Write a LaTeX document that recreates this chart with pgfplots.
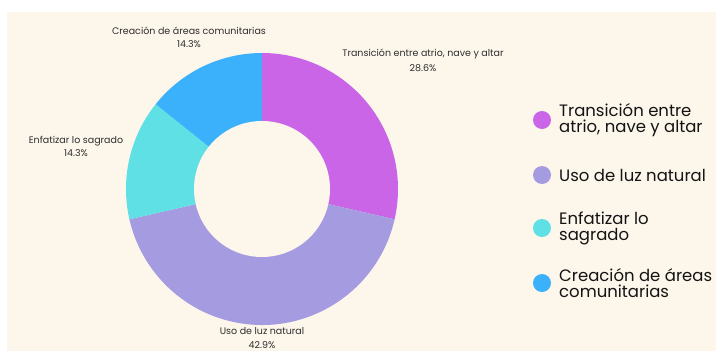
\documentclass[border=0pt]{standalone}
\usepackage{pgfplots}
\pgfplotsset{compat=1.18}
\usepackage{fontspec}
\setmainfont{Poppins}
\definecolor{bg}{HTML}{FDF6EB}
\definecolor{c1}{HTML}{C965E6}
\definecolor{c2}{HTML}{A59BE0}
\definecolor{c3}{HTML}{5EE0E4}
\definecolor{c4}{HTML}{3AB1FA}
\definecolor{lbl}{HTML}{2E2E2E}
\definecolor{leg}{HTML}{141414}
\begin{document}
\begin{tikzpicture}
\begin{axis}[width=716pt,height=351pt,scale only axis,
  xmin=0,xmax=716,ymin=0,ymax=351,y dir=reverse,hide axis,clip=false]
\fill[white] (axis cs:0,0) rectangle (axis cs:716,351);
\fill[bg] (axis cs:7,12) rectangle (axis cs:716,351);
\pgfplotsextra{
  \gdef\startang{90}
  \foreach \v/\c in {2/c1,3/c2,1/c3,1/c4}{
    \pgfmathsetmacro\endang{\startang-\v/7*360}
    \fill[\c] (axis cs:262,189) -- ++(\startang:136pt)
      arc[start angle=\startang,end angle=\endang,radius=136pt] -- cycle;
    \xdef\startang{\endang}
  }
  \fill[bg] (axis cs:262,189) circle[radius=68pt];
}
% slice labels
\node[font=\fontsize{9.5}{15}\selectfont,align=center,text=lbl,inner sep=0pt] at (axis cs:423,60) {Transición entre atrio, nave y altar\\28.6\%};
\node[font=\fontsize{9.5}{12.5}\selectfont,align=center,text=lbl,inner sep=0pt] at (axis cs:189,37.5) {Creación de áreas comunitarias\\14.3\%};
\node[font=\fontsize{9.5}{13}\selectfont,align=center,text=lbl,inner sep=0pt] at (axis cs:76,146) {Enfatizar lo sagrado\\14.3\%};
\node[font=\fontsize{9.5}{14}\selectfont,align=center,text=lbl,inner sep=0pt] at (axis cs:262,338.5) {Uso de luz natural\\42.9\%};
% legend
\fill[c1] (axis cs:542,120) circle[radius=9pt];
\fill[c2] (axis cs:542,175) circle[radius=9pt];
\fill[c3] (axis cs:542,228) circle[radius=9pt];
\fill[c4] (axis cs:542,283) circle[radius=9pt];
\node[anchor=west,align=left,text=leg,inner sep=0pt,font=\fontsize{16.5}{16}\selectfont] at (axis cs:559,120) {Transición entre\\atrio, nave y altar};
\node[anchor=west,align=left,text=leg,inner sep=0pt,font=\fontsize{16.5}{16}\selectfont] at (axis cs:559,175) {Uso de luz natural};
\node[anchor=west,align=left,text=leg,inner sep=0pt,font=\fontsize{16.5}{16}\selectfont] at (axis cs:559,228) {Enfatizar lo\\sagrado};
\node[anchor=west,align=left,text=leg,inner sep=0pt,font=\fontsize{16.5}{16}\selectfont] at (axis cs:559,283) {Creación de áreas\\comunitarias};
\end{axis}
\end{tikzpicture}
\end{document}
